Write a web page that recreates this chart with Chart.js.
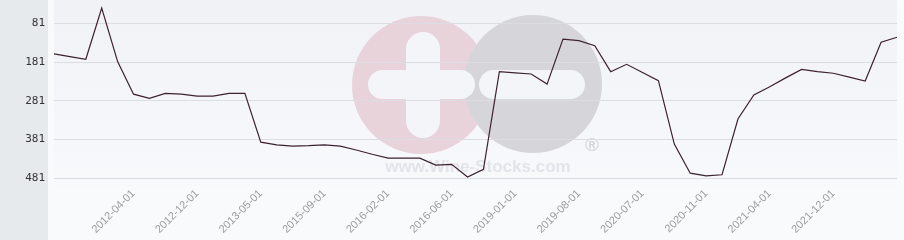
<!DOCTYPE html>
<html>
<head>
<meta charset="utf-8">
<title>Rank history</title>
<script src="https://cdn.jsdelivr.net/npm/chart.js"></script>
<style>
  html, body { margin: 0; padding: 0; background: #f9fafc; }
  #wrap { width: 904px; height: 240px; position: relative; }
</style>
</head>
<body>
<div id="wrap"><canvas id="rankChart"></canvas></div>
<script>
// dates (only every 4th is labelled on the axis)
const dates = [
  '2011-07-01', '2011-09-01', '2011-11-01', '2012-01-01', '2012-03-01',
  '2012-04-01', '2012-06-01', '2012-08-01', '2012-10-01', '2012-12-01',
  '2013-01-01', '2013-02-01', '2013-04-01', '2013-05-01', '2014-01-01',
  '2014-06-01', '2015-01-01', '2015-09-01', '2015-10-01', '2015-11-01',
  '2016-01-01', '2016-02-01', '2016-03-01', '2016-04-01', '2016-05-01',
  '2016-06-01', '2016-09-01', '2017-06-01', '2018-06-01', '2019-01-01',
  '2019-03-01', '2019-05-01', '2019-06-01', '2019-08-01', '2019-10-01',
  '2020-01-01', '2020-04-01', '2020-07-01', '2020-08-01', '2020-09-01',
  '2020-10-01', '2020-11-01', '2020-12-01', '2021-01-01', '2021-03-01',
  '2021-04-01', '2021-06-01', '2021-08-01', '2021-10-01', '2021-12-01',
  '2022-02-01', '2022-04-01', '2022-06-01', '2022-08-01'
];

// rank (lower is better, axis is reversed)
const rank = [
  160, 167, 174, 42, 180, 264, 275, 262, 264, 269,
  269, 262, 262, 388, 395, 398, 397, 395, 398, 408,
  419, 429, 429, 429, 447, 445, 478, 458, 206, 209,
  212, 238, 122, 126, 139, 206, 187, 208, 229, 393,
  468, 475, 472, 328, 266, 245, 222, 200, 206, 210,
  220, 230, 130, 117
];

const yTicks = [81, 181, 281, 381, 481];
const yMin = 21;
const yMax = 501;

// which category gets a visible label
function showLabel(i) {
  return i >= 5 && i <= 49 && (i - 1) % 4 === 0;
}

// background panels + watermark
const backdrop = {
  id: 'backdrop',
  beforeDraw(chart) {
    const { ctx, chartArea: a, width, height } = chart;
    ctx.save();
    ctx.fillStyle = '#f9fafc';
    ctx.fillRect(0, 0, width, height);
    ctx.fillStyle = '#e7eaed';
    ctx.fillRect(0, 0, 48, height);

    const g = ctx.createLinearGradient(0, a.top, 0, a.bottom);
    g.addColorStop(0, '#f1f2f6');
    g.addColorStop(1, '#f8f9fb');
    ctx.fillStyle = g;
    ctx.fillRect(a.left, a.top, a.right - a.left, a.bottom - a.top);

    // logo
    ctx.fillStyle = '#e9d3db';
    ctx.beginPath(); ctx.arc(421, 85, 69, 0, Math.PI * 2); ctx.fill();
    ctx.fillStyle = '#d6d6da';
    ctx.beginPath(); ctx.arc(533, 84, 69, 0, Math.PI * 2); ctx.fill();

    ctx.fillStyle = '#f4f5f8';
    ctx.beginPath(); ctx.roundRect(406, 32, 34, 106, 17); ctx.fill();
    ctx.beginPath(); ctx.roundRect(368, 70, 107, 29, 14.5); ctx.fill();
    ctx.beginPath(); ctx.roundRect(479, 70, 106, 29, 14.5); ctx.fill();

    ctx.fillStyle = '#d6d6da';
    ctx.font = 'bold 19px "Liberation Sans", Arial, sans-serif';
    ctx.textAlign = 'center';
    ctx.textBaseline = 'middle';
    ctx.fillText('\u00AE', 592, 146);

    ctx.fillStyle = '#e3e4e9';
    ctx.font = 'bold 17px "Liberation Sans", Arial, sans-serif';
    ctx.textBaseline = 'alphabetic';
    ctx.fillText('www.Wine-Stocks.com', 478, 172);
    ctx.restore();
  }
};

new Chart(document.getElementById('rankChart'), {
  type: 'line',
  data: {
    labels: dates,
    datasets: [{
      data: rank,
      borderColor: '#3d2131',
      borderWidth: 1.2,
      pointRadius: 0,
      tension: 0,
      fill: false
    }]
  },
  options: {
    responsive: true,
    maintainAspectRatio: false,
    animation: false,
    layout: { padding: { left: 0, right: 7, top: 0, bottom: 0 } },
    plugins: {
      legend: { display: false },
      tooltip: { enabled: false }
    },
    scales: {
      x: {
        offset: false,
        grid: { display: false },
        border: { display: false },
        ticks: {
          autoSkip: false,
          minRotation: 45,
          maxRotation: 45,
          padding: -7,
          color: '#9c9c9c',
          font: { size: 11, family: '"Liberation Sans", Arial, sans-serif' },
          callback: function (val, i) {
            return showLabel(i) ? this.getLabelForValue(val) : '';
          }
        },
        afterFit(scale) {
          scale.height = 54;
          scale.paddingLeft = 0;
          scale.paddingRight = 0;
        }
      },
      y: {
        reverse: true,
        min: yMin,
        max: yMax,
        grid: { color: '#dcdde2', drawTicks: false },
        border: { display: false },
        ticks: {
          padding: 9,
          color: '#333',
          font: { size: 11, family: '"DejaVu Sans Mono", monospace' }
        },
        afterBuildTicks(scale) {
          scale.ticks = yTicks.map(v => ({ value: v }));
        },
        afterFit(scale) {
          scale.width = 54;
          scale.paddingTop = 0;
          scale.paddingBottom = 0;
        }
      }
    }
  },
  plugins: [backdrop]
});
</script>
</body>
</html>
